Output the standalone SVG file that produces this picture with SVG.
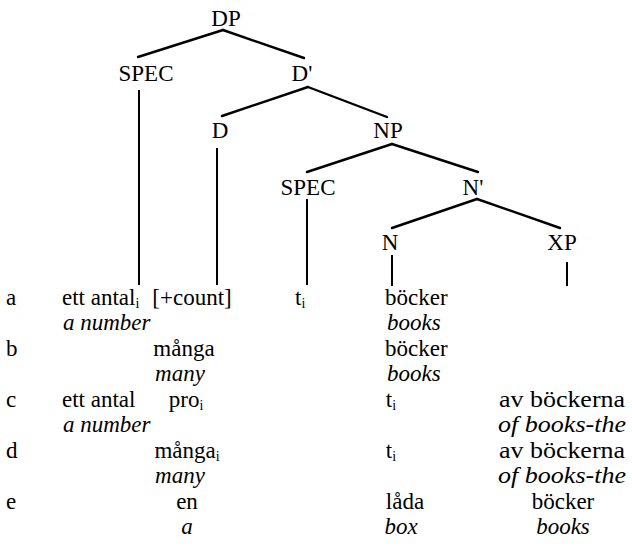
<svg xmlns="http://www.w3.org/2000/svg" width="632" height="546" viewBox="0 0 632 546">
<style>
text{font-family:"Liberation Serif","Times New Roman",serif;fill:#000}
.lab{font-size:23px;text-anchor:middle}
.row{font-size:23px}
.gl{font-size:23px;font-style:italic}
.c{text-anchor:middle}
.sub{font-size:14px}
.edge{stroke:#000;stroke-width:2.4;fill:none;stroke-linecap:round}
.vert{stroke:#000;stroke-width:2;fill:none}
</style>
<rect width="632" height="546" fill="#fff"/>
<g id="connectors">
<line class="edge" x1="223" y1="30" x2="138" y2="57"/>
<line class="edge" x1="223" y1="30" x2="304" y2="58"/>
<line class="edge" x1="308" y1="87" x2="222" y2="116"/>
<line class="edge" x1="308" y1="87" x2="387" y2="117"/>
<line class="edge" x1="392" y1="144" x2="307" y2="172"/>
<line class="edge" x1="392" y1="144" x2="478" y2="172"/>
<line class="edge" x1="477" y1="199" x2="392" y2="228"/>
<line class="edge" x1="477" y1="199" x2="560" y2="228"/>
<line class="vert" x1="139" y1="90" x2="139" y2="285"/>
<line class="vert" x1="217" y1="148" x2="217" y2="285"/>
<line class="vert" x1="307" y1="199" x2="307" y2="285"/>
<line class="vert" x1="392" y1="255" x2="392" y2="286"/>
<line class="vert" x1="567" y1="262" x2="567" y2="286"/>
</g>
<g id="n-DP"><text class="lab" x="226" y="26">DP</text></g>
<g id="n-SPEC1"><text class="lab" x="146" y="81">SPEC</text></g>
<g id="n-Dbar"><text class="lab" x="302" y="81">D'</text></g>
<g id="n-D"><text class="lab" x="220" y="138">D</text></g>
<g id="n-NP"><text class="lab" x="388" y="138">NP</text></g>
<g id="n-SPEC2"><text class="lab" x="308" y="195">SPEC</text></g>
<g id="n-Nbar"><text class="lab" x="473" y="195">N'</text></g>
<g id="n-N"><text class="lab" x="390" y="250">N</text></g>
<g id="n-XP"><text class="lab" x="562" y="250">XP</text></g>
<g id="rows">
<text class="row" x="6" y="305">a</text>
<text class="row" x="62" y="305">ett antal<tspan class="sub" dy="3">i</tspan></text>
<text class="row c" x="192" y="305">[+count]</text>
<text class="row" x="295" y="305">t<tspan class="sub" dy="3">i</tspan></text>
<text class="row" x="385" y="305">böcker</text>
<text class="gl" x="63" y="330">a number</text>
<text class="gl" x="387" y="330">books</text>
<text class="row" x="6" y="356">b</text>
<text class="row c" x="184" y="356">många</text>
<text class="row" x="385" y="356">böcker</text>
<text class="gl c" x="180" y="381">many</text>
<text class="gl" x="387" y="381">books</text>
<text class="row" x="6" y="407">c</text>
<text class="row" x="62" y="407">ett antal</text>
<text class="row c" x="186" y="407">pro<tspan class="sub" dy="3">i</tspan></text>
<text class="row c" x="391" y="407">t<tspan class="sub" dy="3">i</tspan></text>
<text class="row" x="499" y="407" textLength="126" lengthAdjust="spacingAndGlyphs">av böckerna</text>
<text class="gl" x="63" y="432">a number</text>
<text class="gl" x="498" y="432" textLength="128" lengthAdjust="spacingAndGlyphs">of books-the</text>
<text class="row" x="6" y="458">d</text>
<text class="row c" x="187" y="458">många<tspan class="sub" dy="3">i</tspan></text>
<text class="row c" x="391" y="458">t<tspan class="sub" dy="3">i</tspan></text>
<text class="row" x="499" y="458" textLength="126" lengthAdjust="spacingAndGlyphs">av böckerna</text>
<text class="gl c" x="180" y="483">many</text>
<text class="gl" x="498" y="483" textLength="128" lengthAdjust="spacingAndGlyphs">of books-the</text>
<text class="row" x="6" y="509">e</text>
<text class="row c" x="187" y="509">en</text>
<text class="row c" x="405" y="509">låda</text>
<text class="row c" x="563" y="509">böcker</text>
<text class="gl c" x="187" y="534">a</text>
<text class="gl c" x="401" y="534">box</text>
<text class="gl c" x="563" y="534">books</text>
</g>
</svg>
